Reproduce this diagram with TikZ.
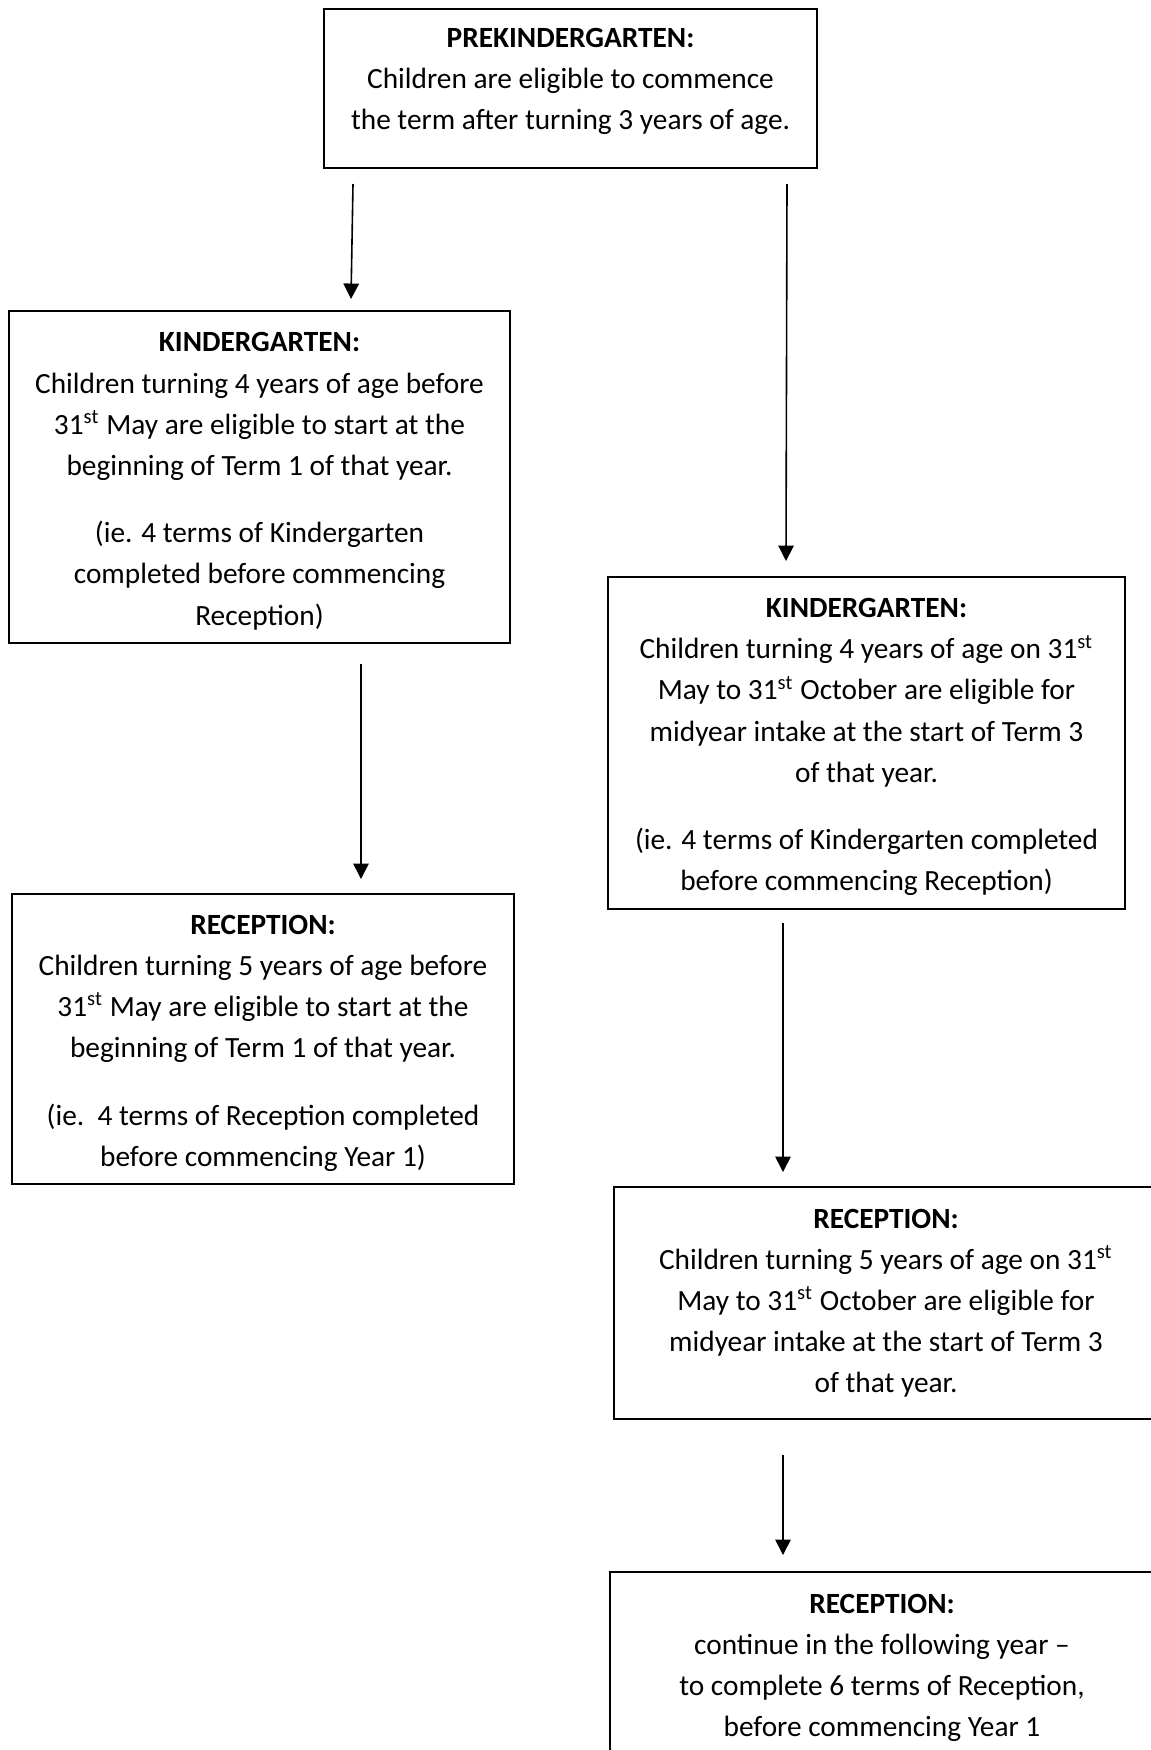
\documentclass[tikz,border=0pt]{standalone}
\usepackage{fontspec}
\setmainfont{Carlito}
\usetikzlibrary{arrows.meta}

\tikzset{
  stage/.style 2 args={draw, line width=0.75pt, align=flush center, inner sep=0pt,
    text width=#1, minimum height=#2, font=\fontsize{11pt}{15.4pt}\selectfont},
  flow/.style={-{Triangle[length=5.8pt,width=5.8pt]}, line width=0.6pt}
}
% struts to nudge the text inside a box
\newcommand{\topgap}{\rule{0pt}{10.4pt}}
\newcommand{\botgap}{\rule[-7.4pt]{0pt}{0pt}}

\begin{document}
\begin{tikzpicture}[x=0.375pt,y=-0.375pt]
			\useasboundingbox (0,0) rectangle (1151,1750);
			% boxes
			\node[stage={184.9pt}{59.6pt}] (prek) at (570.5,88.5)
				{\textbf{PREKINDERGARTEN:}\\ Children are eligible to commence\\ the term after turning 3 years of age.\botgap};
			\node[stage={187.9pt}{124.5pt}] (kinderA) at (259.5,477)
				{\topgap\textbf{KINDERGARTEN:}\\ Children turning 4 years of age before\\ 31\textsuperscript{st} May are eligible to start at the\\ beginning of Term 1 of that year.\\[10pt] (ie. 4 terms of Kindergarten\\ completed before commencing\\ Reception)};
			\node[stage={188.3pt}{108.8pt}] (recepA) at (263,1039)
				{\topgap\textbf{RECEPTION:}\\ Children turning 5 years of age before\\ 31\textsuperscript{st} May are eligible to start at the\\ beginning of Term 1 of that year.\\[10pt] (ie.\ \ 4 terms of Reception completed\\ before commencing Year 1)};
			\node[stage={193.9pt}{124.5pt}] (kinderB) at (866.5,743)
				{\topgap\textbf{KINDERGARTEN:}\\ Children turning 4 years of age on 31\textsuperscript{st}\\ May to 31\textsuperscript{st} October are eligible for\\ midyear intake at the start of Term 3\\ of that year.\\[10pt] (ie. 4 terms of Kindergarten completed\\ before commencing Reception)};
			\node[stage={204pt}{87pt}] (recepB) at (886,1303)
				{\textbf{RECEPTION:}\\ Children turning 5 years of age on 31\textsuperscript{st}\\ May to 31\textsuperscript{st} October are eligible for\\ midyear intake at the start of Term 3\\ of that year.};
			\node[stage={204pt}{72.2pt}] (recepC) at (882,1668)
				{\textbf{RECEPTION:}\\ continue in the following year --\\ to complete 6 terms of Reception,\\ before commencing Year 1};
			% arrows
			\coordinate (a1) at (353,184);
			\coordinate (a2) at (351,299);
			\coordinate (b1) at (787,184);
			\coordinate (b2) at (786,561);
			\coordinate (c1) at (361,664);
			\coordinate (c2) at (361,879);
			\coordinate (d1) at (783,923);
			\coordinate (d2) at (783,1172);
			\coordinate (e1) at (783,1455);
			\coordinate (e2) at (783,1555);
			\draw[flow] (a1) -- (a2);
			\draw[flow] (b1) -- (b2);
			\draw[flow] (c1) -- (c2);
			\draw[flow] (d1) -- (d2);
			\draw[flow] (e1) -- (e2);
		\end{tikzpicture}
\end{document}
